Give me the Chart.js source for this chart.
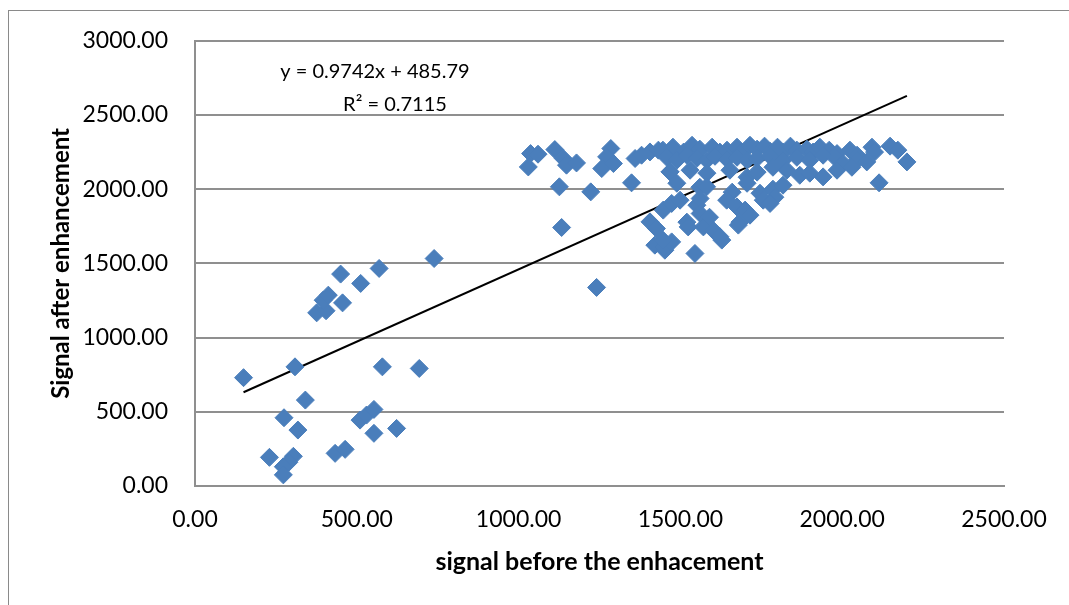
<!DOCTYPE html>
<html>
<head>
<meta charset="utf-8">
<script src="https://cdn.jsdelivr.net/npm/chart.js@4.4.1/dist/chart.umd.min.js"></script>
<style>
  html, body { margin: 0; padding: 0; background: #fff; overflow: hidden; }
  #wrap { position: relative; width: 1069px; height: 605px; }
  #frame { position: absolute; left: 8px; top: 10px; width: 1200px; height: 800px; border: 1px solid #8a8a8a; }
  canvas { position: absolute; left: 0; top: 0; }
</style>
</head>
<body>
<div id="wrap">
  <div id="frame"></div>
  <canvas id="chart" width="1069" height="605"></canvas>
</div>
<script>
// signal before enhancement (x) and after (y)
const beforeValues = [
  150, 309, 341, 275, 318, 230, 304, 290, 273, 273, 433, 464, 510, 530, 553, 553, 623, 579, 693,
  376, 405, 396, 412, 456, 450, 512, 569, 739,
  1037, 1030, 1060, 1112, 1138, 1148, 1179, 1126, 1223, 1133, 1241, 1285, 1272, 1257, 1293, 1349,
  1360, 1380, 1406, 1432, 1406, 1426, 1421, 1452, 1447, 1447, 1473, 1468,
  1446, 1477, 1510, 1536, 1560, 1598, 1622, 1644, 1675, 1690, 1715, 1737, 1760, 1777, 1800, 1817,
  1840, 1860, 1891, 1910, 1931, 1960, 1984, 2024, 2046, 2092, 2100, 2148, 2172,
  1458, 1489, 1520, 1551, 1582, 1607, 1644, 1675, 1706, 1737, 1777, 1817, 1860, 1900, 1941, 1980,
  2002, 2046, 2076, 2200,
  1468, 1530, 1582, 1653, 1706, 1737, 1786, 1829, 1869, 1900, 1941, 1984, 2030,
  1489, 1560, 1581, 1706, 1746, 1786, 1817, 1792, 2114, 1660,
  1473, 1499, 1551, 1561, 1643, 1675, 1700, 1715, 1756, 1777, 1561,
  1520, 1524, 1571, 1601, 1684, 1679, 1545, 1628, 1446, 1622, 1590
];
const afterValues = [
  730, 803, 579, 460, 377, 193, 200, 160, 130, 75, 220, 247, 444, 478, 516, 355, 388, 803, 792,
  1167, 1181, 1252, 1286, 1234, 1428, 1365, 1466, 1533,
  2240, 2150, 2236, 2267, 2207, 2162, 2177, 2016, 1982, 1742, 1338, 2274, 2218, 2139, 2173, 2043,
  2207, 2229, 2251, 2263, 1780, 1735, 1623, 1589, 1859, 1611, 1645, 2117,
  2263, 2283, 2250, 2296, 2270, 2283, 2250, 2263, 2283, 2250, 2296, 2270, 2290, 2256, 2283, 2250,
  2290, 2263, 2270, 2250, 2283, 2263, 2240, 2263, 2229, 2283, 2250, 2290, 2263,
  2215, 2195, 2229, 2208, 2195, 2222, 2202, 2215, 2195, 2208, 2222, 2195, 2215, 2195, 2229, 2208,
  2175, 2195, 2184, 2184,
  2117, 2128, 2108, 2128, 2081, 2115, 2148, 2128, 2094, 2108, 2083, 2128, 2148,
  2040, 2013, 2016, 2040, 1973, 2000, 2027, 1946, 2043, 1980,
  1904, 1926, 1892, 1937, 1926, 1880, 1859, 1825, 1926, 1904, 1836,
  1778, 1746, 1746, 1724, 1778, 1758, 1567, 1657, 1657, 1680, 1811
];

// linear trendline as printed on the chart
const slope = 0.9742;
const intercept = 485.79;
const equationLines = ['y = 0.9742x + 485.79', 'R\u00b2 = 0.7115'];

const xTitle = 'signal before the enhacement';
const yTitle = 'Signal after enhancement';

const FONT = 'Lato, "Open Sans", sans-serif';
const GRID = '#8f8f8f';

const points = beforeValues.map((x, i) => ({ x, y: afterValues[i] }));
const xMin = Math.min(...beforeValues);
const xMax = Math.max(...beforeValues);
const trend = [xMin, xMax].map((x) => ({ x, y: slope * x + intercept }));

const equationPlugin = {
  id: 'equation',
  afterDatasetsDraw(chart) {
    const { ctx, scales } = chart;
    ctx.save();
    ctx.fillStyle = '#000';
    ctx.font = '20px ' + FONT;
    ctx.textAlign = 'center';
    ctx.textBaseline = 'middle';
    ctx.fillText(equationLines[0], scales.x.getPixelForValue(556), scales.y.getPixelForValue(2790));
    ctx.fillText(equationLines[1], scales.x.getPixelForValue(618), scales.y.getPixelForValue(2572));
    ctx.restore();
  },
};

new Chart(document.getElementById('chart').getContext('2d'), {
  type: 'scatter',
  data: {
    datasets: [
      {
        label: 'Series1',
        data: points,
        pointStyle: 'rectRot',
        pointRadius: 9,
        backgroundColor: '#4A7EBB',
        borderColor: '#4A7EBB',
        borderWidth: 1,
      },
      {
        type: 'line',
        label: 'Linear',
        data: trend,
        showLine: true,
        borderColor: '#000',
        borderWidth: 2,
        pointRadius: 0,
        fill: false,
      },
    ],
  },
  options: {
    responsive: false,
    animation: false,
    layout: { padding: { left: 0, top: 40, right: 65, bottom: 0 } },
    plugins: {
      legend: { display: false },
      tooltip: { enabled: false },
    },
    scales: {
      x: {
        type: 'linear',
        min: 0,
        max: 2500,
        ticks: {
          stepSize: 500,
          color: '#000',
          padding: 20,
          font: { family: FONT, size: 23 },
          callback: (v) => v.toFixed(2),
        },
        grid: { display: false, drawTicks: false },
        border: { display: true, color: GRID, width: 2 },
        title: {
          display: true,
          text: xTitle,
          color: '#000',
          font: { family: FONT, size: 25, weight: 'bold' },
          padding: { top: 0, bottom: 28 },
        },
        afterFit: (axis) => { axis.height = 119; },
      },
      y: {
        type: 'linear',
        min: 0,
        max: 3000,
        ticks: {
          stepSize: 500,
          color: '#000',
          padding: 27,
          font: { family: FONT, size: 23 },
          callback: (v) => v.toFixed(2),
        },
        grid: { color: GRID, lineWidth: 2, drawTicks: false },
        border: { display: true, color: GRID, width: 2 },
        title: {
          display: true,
          text: yTitle,
          color: '#000',
          font: { family: FONT, size: 24, weight: 'bold' },
          padding: { top: 47, bottom: 0 },
        },
        afterFit: (axis) => { axis.width = 195; },
      },
    },
  },
  plugins: [equationPlugin],
});
</script>
</body>
</html>
